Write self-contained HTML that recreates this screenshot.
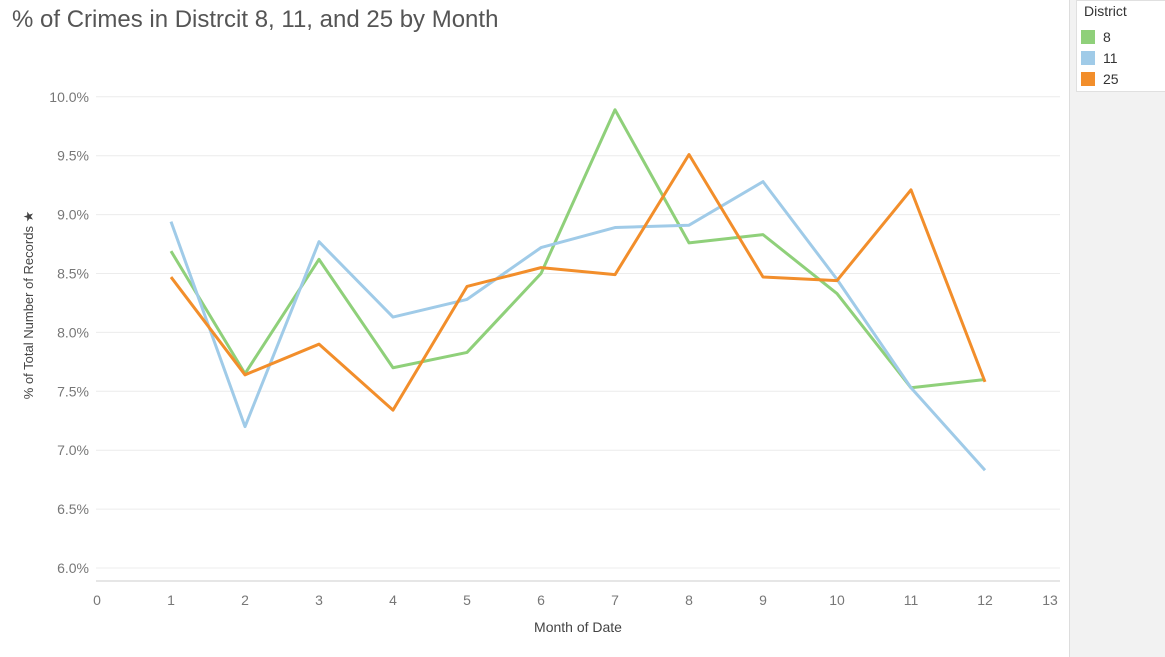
<!DOCTYPE html>
<html><head><meta charset="utf-8"><style>
body{margin:0;width:1165px;height:657px;background:#fff;font-family:"Liberation Sans",sans-serif;overflow:hidden;position:relative}
#title{position:absolute;left:12px;top:6px;font-size:24px;color:#555;}
#side{position:absolute;left:1069px;top:0;width:96px;height:657px;background:#f2f2f2;border-left:1px solid #ddd}
#legend{position:absolute;left:1076px;top:0;width:89px;height:90px;background:#fff;border:1px solid #e0e0e0;font-size:14px;color:#333}
.li{position:absolute;left:4px;display:flex;align-items:center}
.sw{width:14px;height:14px;margin-right:8px}
svg{position:absolute;left:0;top:0}
</style></head><body>
<div id="title">% of Crimes in Distrcit 8, 11, and 25 by Month</div>
<div id="side"></div>
<div id="legend">
<div style="position:absolute;left:7px;top:2px">District</div>
<div class="li" style="top:28px"><div class="sw" style="background:#8fd07a"></div>8</div>
<div class="li" style="top:49px"><div class="sw" style="background:#a0cbe8"></div>11</div>
<div class="li" style="top:70px"><div class="sw" style="background:#f28e2b"></div>25</div>
</div>
<svg id="chart" width="1165" height="657"></svg>
<script>
const months=[1,2,3,4,5,6,7,8,9,10,11,12];
const d8=[8.69,7.65,8.62,7.70,7.83,8.50,9.89,8.76,8.83,8.33,7.53,7.60];
const d11=[8.94,7.20,8.77,8.13,8.28,8.72,8.89,8.91,9.28,8.45,7.53,6.83];
const d25=[8.47,7.64,7.90,7.34,8.39,8.55,8.49,9.51,8.47,8.44,9.21,7.58];
const yTicks=[6.0,6.5,7.0,7.5,8.0,8.5,9.0,9.5,10.0];
const xTicks=[0,1,2,3,4,5,6,7,8,9,10,11,12,13];
const NS="http://www.w3.org/2000/svg";
const svg=document.getElementById('chart');
const xs=v=>97+v*74;
const ys=v=>568-(v-6)*117.8;
function mk(t,a){const e=document.createElementNS(NS,t);for(const k in a)e.setAttribute(k,a[k]);svg.appendChild(e);return e;}
yTicks.forEach(t=>{
 const g=mk('line',{x1:96,x2:1060,y1:ys(t),y2:ys(t),stroke:'#ececec'});
 
 
 const l=mk('text',{x:89,y:ys(t)+5,'text-anchor':'end','font-size':14,fill:'#777'});
 l.textContent=t.toFixed(1)+'%';
 
 
});
const ax=mk('line',{x1:96,x2:1060,y1:581,y2:581,stroke:'#ccc'});


xTicks.forEach(t=>{
 const l=mk('text',{x:Math.min(xs(t),1050),y:605,'text-anchor':'middle','font-size':14,fill:'#777'});
 l.textContent=t;
 
 
});
const xt=mk('text',{x:578,y:632,'text-anchor':'middle','font-size':14,fill:'#444'});
xt.textContent='Month of Date';


const yt=mk('text',{x:0,y:0,'text-anchor':'middle','font-size':13,fill:'#444',transform:'translate(33,305) rotate(-90)'});
yt.textContent='% of Total Number of Records ★';


[[d8,'#8fd07a','line-district-8'],[d11,'#a0cbe8','line-district-11'],[d25,'#f28e2b','line-district-25']].forEach(([d,c,n])=>{
 const p=mk('polyline',{points:d.map((v,i)=>xs(months[i])+','+ys(v)).join(' '),fill:'none',stroke:c,'stroke-width':3,'stroke-linejoin':'round'});
 
 
});
</script>
</body></html>
